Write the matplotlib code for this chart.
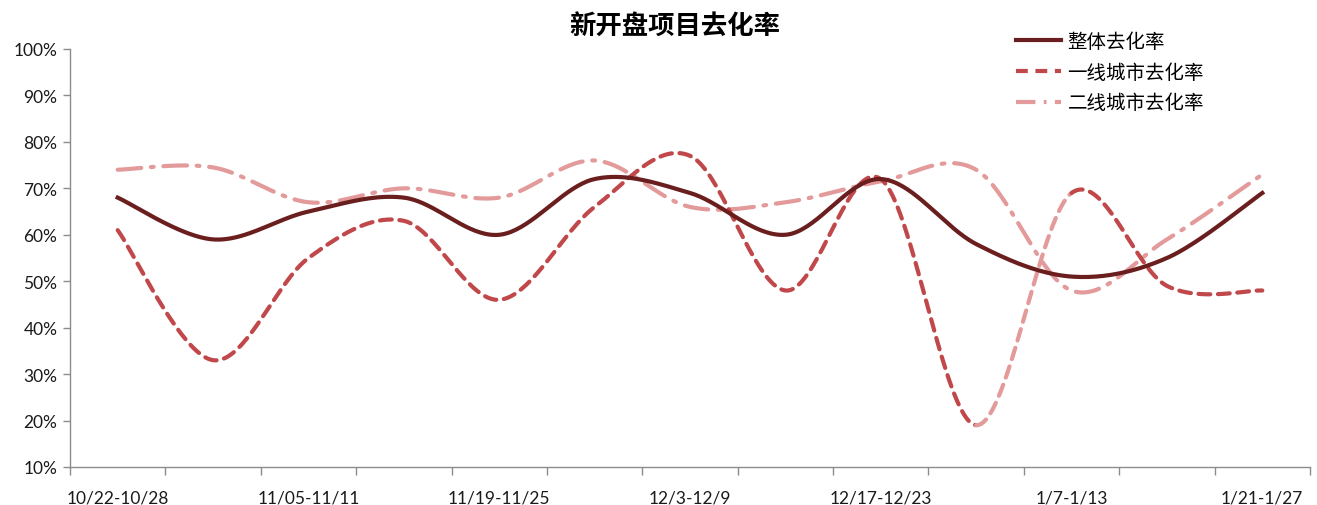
import numpy as np
import matplotlib.pyplot as plt
from matplotlib.lines import Line2D
from matplotlib.ticker import FixedLocator, PercentFormatter

plt.rcParams['lines.scale_dashes'] = False

weeks = ["10/22-10/28", "10/29-11/04", "11/05-11/11", "11/12-11/18",
         "11/19-11/25", "11/26-12/2", "12/3-12/9", "12/10-12/16",
         "12/17-12/23", "12/24-12/30", "1/7-1/13", "1/14-1/20", "1/21-1/27"]
overall = [68, 59, 65, 68, 60, 72, 69, 60, 72, 58, 51, 55, 69]
tier1 = [61, 33, 55, 63, 46, 66, 77, 48, 72, 19, 69, 49, 48]
tier2 = [74, 74.5, 67, 70, 68, 76, 66, 67, 71.5, 74, 48, 59, 73]

c_all = "#6b1e1e"
c_t1 = "#c0474a"
c_t2 = "#e39a9a"
cjk = ["Noto Sans CJK SC", "DejaVu Sans"]


def smooth(y, n=40):
    # excel-style smoothed line: cubic bezier with 1/6 tangents
    x = np.arange(len(y), dtype=float)
    y = np.asarray(y, dtype=float)
    pts = np.column_stack([x, y])
    ext = np.vstack([pts[0], pts, pts[-1]])
    out = []
    t = np.linspace(0, 1, n)[:, None]
    for i in range(len(pts) - 1):
        p0, p1 = ext[i + 1], ext[i + 2]
        c1 = p0 + (ext[i + 2] - ext[i]) / 6
        c2 = p1 - (ext[i + 3] - ext[i + 1]) / 6
        seg = ((1 - t) ** 3) * p0 + 3 * ((1 - t) ** 2) * t * c1 \
            + 3 * (1 - t) * t ** 2 * c2 + t ** 3 * p1
        out.append(seg if i == 0 else seg[1:])
    return np.vstack(out), n - 1


fig = plt.figure(figsize=(13.17, 5.06), dpi=100)
ax = fig.add_axes([70 / 1317, 1 - 468 / 506, 1240 / 1317, 418 / 506])

dash_t1 = (0, (8.5, 5.5))
dash_t2 = (0, (17, 7, 2, 7))

xy, step = smooth(tier2)
ax.plot(xy[:, 0], xy[:, 1], color=c_t2, lw=3, linestyle=dash_t2,
        dash_capstyle='round', zorder=2)

# first-tier line; the 12/24 -> 1/7 stretch is drawn in the lighter colour
xy, step = smooth(tier1)
k9, k10 = 9 * step, 10 * step
ax.plot(xy[:k9 + 1, 0], xy[:k9 + 1, 1], color=c_t1, lw=3, linestyle=dash_t1,
        dash_capstyle='round', zorder=3)
ax.plot(xy[k9:k10 + 1, 0], xy[k9:k10 + 1, 1], color=c_t2, lw=3, linestyle=dash_t1,
        dash_capstyle='round', zorder=3)
ax.plot(xy[k10:, 0], xy[k10:, 1], color=c_t1, lw=3, linestyle=dash_t1,
        dash_capstyle='round', zorder=3)

xy, step = smooth(overall)
ax.plot(xy[:, 0], xy[:, 1], color=c_all, lw=3, zorder=4)

ax.set_xlim(-0.5, len(weeks) - 0.5)
ax.set_ylim(10, 100)
ax.yaxis.set_major_locator(FixedLocator(range(10, 101, 10)))
ax.yaxis.set_major_formatter(PercentFormatter(decimals=0))

idx = list(range(0, len(weeks), 2))
ax.set_xticks(idx)
ax.set_xticklabels([weeks[i] for i in idx])
ax.set_xticks(np.arange(-0.5, len(weeks), 1.0), minor=True)
ax.tick_params(axis='x', which='major', length=0, pad=16)
ax.tick_params(axis='x', which='minor', length=6, width=1, color="#8c8c8c", direction='out')
ax.tick_params(axis='y', length=5, width=1, color="#8c8c8c", direction='out', pad=4)
for lab in ax.get_xticklabels() + ax.get_yticklabels():
    lab.set_fontfamily("Lato")
    lab.set_fontsize(12.5)
    lab.set_color("#1a1a1a")

for s in ("top", "right"):
    ax.spines[s].set_visible(False)
for s in ("left", "bottom"):
    ax.spines[s].set_color("#8c8c8c")
    ax.spines[s].set_linewidth(1)

fig.text(675 / 1317, 1 - 26 / 506, "新开盘项目去化率", ha='center', va='center',
         fontsize=19, fontweight='bold', family=cjk)

handles = [Line2D([], [], color=c_all, lw=3),
           Line2D([], [], color=c_t1, lw=3, linestyle=dash_t1),
           Line2D([], [], color=c_t2, lw=3, linestyle=(0, (14, 6, 2, 6)))]
fig.legend(handles, ["整体去化率", "一线城市去化率", "二线城市去化率"],
           loc='upper left', bbox_to_anchor=(1016 / 1317, 1 - 32 / 506),
           frameon=False, prop={'family': cjk, 'size': 14},
           handlelength=2.3, handletextpad=0.35, labelspacing=0.5,
           borderaxespad=0, borderpad=0)

fig.savefig("out.png", dpi=100)
